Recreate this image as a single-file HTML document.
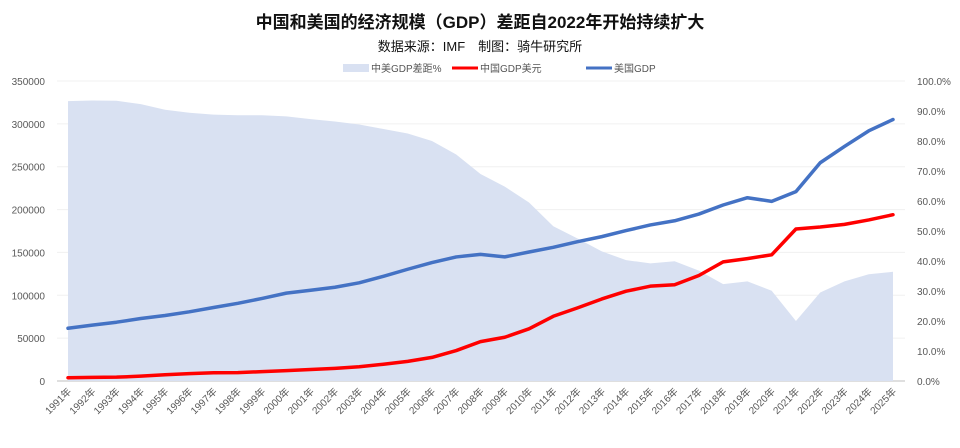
<!DOCTYPE html>
<html><head><meta charset="utf-8">
<style>
html,body{margin:0;padding:0;background:#fff;}
body{width:960px;height:443px;overflow:hidden;font-family:"Liberation Sans","Noto Sans CJK SC",sans-serif;}
svg text{font-family:"Liberation Sans","Noto Sans CJK SC",sans-serif;}
</style></head>
<body>
<svg id="chart" width="960" height="443" xmlns="http://www.w3.org/2000/svg">
<text x="480" y="28" text-anchor="middle" font-size="17" font-weight="bold" fill="#111">中国和美国的经济规模（GDP）差距自2022年开始持续扩大</text>
<text x="480" y="51" text-anchor="middle" font-size="13" fill="#111">数据来源：IMF　制图：骑牛研究所</text>
<g font-size="10" fill="#555">
<rect x="343" y="64" width="26" height="8" fill="#d9e1f2"/>
<text x="371" y="72">中美GDP差距%</text>
<line x1="452" y1="68" x2="478" y2="68" stroke="#ff0000" stroke-width="3"/>
<text x="480" y="72">中国GDP美元</text>
<line x1="586" y1="68" x2="612" y2="68" stroke="#4472c4" stroke-width="3"/>
<text x="614" y="72">美国GDP</text>
</g>
<g id="grid"></g><g id="area"></g><g id="lines"></g><g id="axes"></g>
</svg>
<script>
const years = [1991,1992,1993,1994,1995,1996,1997,1998,1999,2000,2001,2002,2003,2004,2005,2006,2007,2008,2009,2010,2011,2012,2013,2014,2015,2016,2017,2018,2019,2020,2021,2022,2023,2024,2025];
const usGDP = [61580,65200,68600,72870,76400,80730,85770,90620,96310,102510,105820,109360,114580,122140,130370,138150,144750,147690,144780,150490,155990,162540,168430,175510,182060,186950,194770,205330,213810,209600,221000,254620,273610,291850,305070];
const chinaGDP = [3830,4270,4450,5640,7340,8630,9620,9800,10940,12110,13390,14710,16600,19550,22860,27520,35500,45940,51020,60870,75510,85320,95700,104760,110620,112330,123100,138940,142800,147230,177340,179630,182730,187900,194000];
const gapPct = [93.3,93.5,93.4,92.3,90.4,89.4,88.8,88.6,88.6,88.2,87.3,86.5,85.5,84,82.5,80,75.5,69,64.8,59.5,51.6,47.5,43.2,40.3,39.2,39.9,36.8,32.3,33.2,30.1,20,29.5,33.2,35.6,36.4];
const leftTicks = [0,50000,100000,150000,200000,250000,300000,350000];
const rightTicks = [0,10,20,30,40,50,60,70,80,90,100];

const NS="http://www.w3.org/2000/svg";
const X0=68,X1=893,Y0=381,Y1=81;
const xs=i=>X0+(X1-X0)*i/(years.length-1);
const yL=v=>Y0-(Y0-Y1)*v/350000;
const yR=v=>Y0-(Y0-Y1)*v/100;
function mk(tag,attrs,parent){const e=document.createElementNS(NS,tag);for(const k in attrs)e.setAttribute(k,attrs[k]);document.getElementById(parent).appendChild(e);return e;}

leftTicks.forEach(t=>{
 const l=mk('line',{x1:57,x2:905,y1:yL(t),y2:yL(t),stroke:t===0?'#bfbfbf':'#f0f0f0','stroke-width':1},'grid');
 
 
 const tx=mk('text',{x:45,y:yL(t)+4,'text-anchor':'end','font-size':10,fill:'#595959'},'axes');
 tx.textContent=t;
 
 
});
rightTicks.forEach(t=>{
 const tx=mk('text',{x:917,y:yR(t)+4,'font-size':10,fill:'#595959'},'axes');
 tx.textContent=t.toFixed(1)+'%';
 
 
});
years.forEach((y,i)=>{
 const x=xs(i);
 const tx=mk('text',{x:x+4,y:392,'text-anchor':'end','font-size':10,fill:'#595959',transform:`rotate(-45 ${x+4} 392)`},'axes');
 tx.textContent=y+'年';
 
 
});
let d=`M${xs(0)},${Y0}`;
gapPct.forEach((v,i)=>{d+=` L${xs(i)},${yR(v)}`;});
d+=` L${xs(gapPct.length-1)},${Y0} Z`;
const a=mk('path',{d:d,fill:'#d9e1f2'},'area');


function line(arr,color,name){
 const p=mk('polyline',{points:arr.map((v,i)=>xs(i)+','+yL(v)).join(' '),fill:'none',stroke:color,'stroke-width':3.5,'stroke-linejoin':'round','stroke-linecap':'round'},'lines');
 
 
}
line(chinaGDP,'#ff0000','china-gdp-line');
line(usGDP,'#4472c4','us-gdp-line');
</script>
</body></html>
